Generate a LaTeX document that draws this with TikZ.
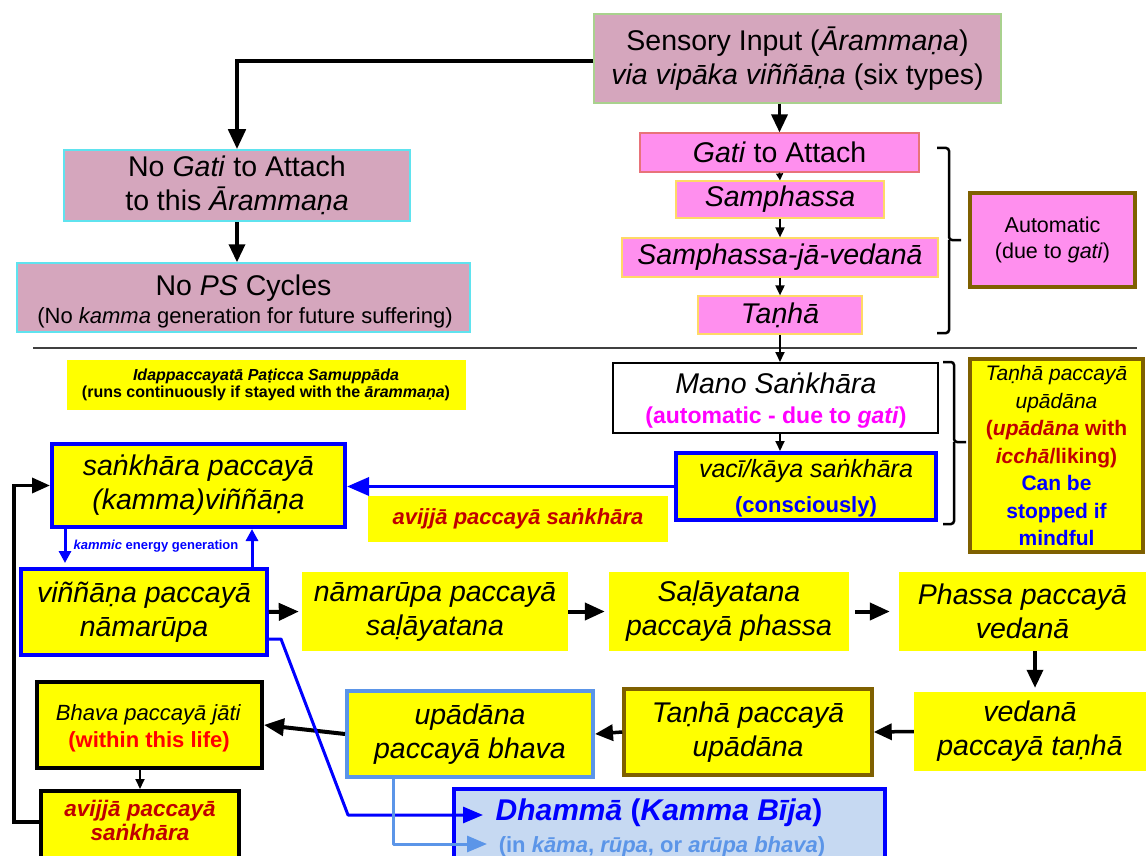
\documentclass[tikz,border=0pt]{standalone}
\usepackage{fontspec}
\setmainfont{Liberation Sans}
\usetikzlibrary{arrows.meta,calc}
\definecolor{mauve}{HTML}{D5A6BD}
\definecolor{pinkbox}{HTML}{FF8FEE}
\definecolor{ylw}{HTML}{FFFF00}
\definecolor{brn}{HTML}{7F6000}
\definecolor{dred}{HTML}{C00000}
\definecolor{lbl}{HTML}{5B95E8}
\definecolor{dhfill}{HTML}{C6D9F2}
\definecolor{mag}{HTML}{FF00FF}
\definecolor{pblue}{HTML}{0000FF}
\definecolor{lgreen}{HTML}{A9D18E}
\definecolor{cyanb}{HTML}{5FE3EF}
\definecolor{salmon}{HTML}{E8737A}
\definecolor{lorange}{HTML}{FFD966}
\definecolor{rulegray}{HTML}{404040}
\definecolor{bred}{HTML}{FF0000}
\newcommand\fsz[2]{\fontsize{#1}{#2}\selectfont}
\begin{document}
\begin{tikzpicture}[x=1pt,y=-1pt,
 box/.style={rectangle, align=center, inner sep=0pt, font=\fsz{28.5}{34}},
 txt/.style={anchor=base, inner sep=0pt},
 harrow/.style={line width=4pt, -{Triangle[length=20pt,width=17pt]}},
 marrow/.style={line width=3.5pt, -{Triangle[length=18pt,width=16pt]}},
 tarrow/.style={line width=1.8pt, -{Triangle[length=10pt,width=9pt]}},
 sarrow/.style={line width=1.4pt, -{Triangle[length=7pt,width=7pt]}},
 barrow/.style={draw=pblue, line width=3.5pt, -{Triangle[length=22pt,width=18pt]}},
 kb/.style={draw=pblue, line width=3pt, -{Triangle[length=12pt,width=12pt]}},
 loopa/.style={line width=3.5pt, -{Triangle[length=18pt,width=15pt]}},
 blroute/.style={draw=pblue, line width=3pt, line join=round, -{Triangle[length=20pt,width=16pt]}},
 lbroute/.style={draw=lbl, line width=3pt, line join=round, -{Triangle[length=20pt,width=16pt]}},
 brk/.style={line width=2.5pt, rounded corners=3pt},
]
\useasboundingbox (0,0) rectangle (1146,856);
\fill[white] (0,0) rectangle (1146,856);

% ---- top part
\node[box, fill=mauve, draw=lgreen, line width=1.5pt, minimum width=407pt, minimum height=89pt] (sens) at (797.5,58.5) {Sensory Input (\textit{Ārammaṇa})\\\textit{via vipāka viññāṇa} (six types)};
\node[box, fill=mauve, draw=cyanb, line width=1.5pt, minimum width=346pt, minimum height=71pt] (nogati) at (237,185.5) {No \textit{Gati} to Attach\\to this \textit{Ārammaṇa}};
\node[box, fill=mauve, draw=cyanb, line width=1.5pt, minimum width=453pt, minimum height=69pt] (nops) at (243.5,297.5) {};
\node[txt, font=\fsz{28.5}{34}] (nops1) at (243.5,295) {No \textit{PS} Cycles};
\node[txt, font=\fsz{22}{26}] (nops2) at (245,323) {(No \textit{kamma} generation for future suffering)};

\node[box, fill=pinkbox, draw=salmon, line width=1.2pt, minimum width=279pt, minimum height=39pt] (gati) at (779.5,152.5) {\textit{Gati} to Attach};
\node[box, fill=pinkbox, draw=lorange, line width=1.2pt, minimum width=208pt, minimum height=37pt] (samph) at (780,199.5) {\textit{Samphassa}};
\node[box, fill=pinkbox, draw=lorange, line width=1.2pt, minimum width=316pt, minimum height=39pt] (sjv) at (780,257.5) {\textit{Samphassa-jā-vedanā}};
\node[box, fill=pinkbox, draw=lorange, line width=1.2pt, minimum width=164pt, minimum height=38pt] (tanha) at (780,315) {\textit{Taṇhā}};
\node[box, fill=pinkbox, draw=brn, line width=4pt, minimum width=165pt, minimum height=94pt, font=\fsz{21.5}{26}] (auto) at (1052.5,240) {Automatic\\(due to \textit{gati})};

\draw[brk] (937,148) -| (949,240) -- (961,240);
\draw[brk] (937,333) -| (949,240);

\draw[line width=1.5pt, rulegray] (33,348) -- (1137,348);

% ---- middle part
\node[box, fill=ylw, minimum width=399pt, minimum height=50pt, font=\fsz{16}{16.5}\bfseries] (ida) at (266,385) {\textit{Idappaccayatā Paṭicca Samuppāda}\\(runs continuously if stayed with the \textit{ārammaṇa})};

\node[box, fill=white, draw=black, line width=2pt, minimum width=325pt, minimum height=70pt] (mano) at (775.5,398) {};
\node[txt, font=\fsz{28.5}{34}] (mano1) at (776,393) {\textit{Mano Saṅkhāra}};
\node[txt, font=\fsz{23}{28}\bfseries, text=mag] (mano2) at (776,423) {(automatic - due to \textit{gati})};

\node[box, fill=ylw, draw=pblue, line width=4pt, minimum width=260pt, minimum height=67pt] (vaci) at (806,486.5) {};
\node[txt, font=\fsz{25}{30}] (vaci1) at (806,477) {\textit{vacī/kāya saṅkhāra}};
\node[txt, font=\fsz{22}{26}\bfseries, text=pblue] (vaci2) at (806,512) {(consciously)};

\draw[brk] (943,362) -| (954,442) -- (966,442);
\draw[brk] (943,524) -| (954,442);

\node[box, fill=ylw, draw=brn, line width=4pt, minimum width=173pt, minimum height=193pt, font=\fsz{21}{27.5}] (upr) at (1056.5,455.5) {\textit{Taṇhā paccayā}\\\textit{upādāna}\\{\color{dred}\bfseries(\textit{upādāna} with}\\{\color{dred}\bfseries\textit{icchā}/liking)}\\{\color{pblue}\bfseries Can be}\\{\color{pblue}\bfseries stopped if}\\{\color{pblue}\bfseries mindful}};

\node[box, fill=ylw, draw=pblue, line width=4pt, minimum width=293pt, minimum height=83pt] (sk) at (198.5,485.5) {\textit{saṅkhāra paccayā}\\\textit{(kamma)viññāṇa}};
\node[box, fill=ylw, minimum width=300pt, minimum height=46pt, font=\fsz{22}{26}\bfseries\itshape, text=dred] (avs) at (518,519) {avijjā paccayā saṅkhāra};
\node[font=\fsz{13}{15}\bfseries, text=pblue, inner sep=0pt] (kl) at (156,546) {\textit{kammic} energy generation};

% ---- lower part
\node[box, fill=ylw, draw=pblue, line width=3.5pt, minimum width=246pt, minimum height=86pt] (vin) at (144,612) {\textit{viññāṇa paccayā}\\\textit{nāmarūpa}};
\node[box, fill=ylw, minimum width=266pt, minimum height=79pt] (nam) at (435,611.5) {\textit{nāmarūpa paccayā}\\\textit{saḷāyatana}};
\node[box, fill=ylw, minimum width=240pt, minimum height=79pt] (sal) at (729,611.5) {\textit{Saḷāyatana}\\\textit{paccayā phassa}};
\node[box, fill=ylw, minimum width=247pt, minimum height=79pt] (pha) at (1022.5,611.5) {\textit{Phassa paccayā}\\\textit{vedanā}};
\node[box, fill=ylw, minimum width=232pt, minimum height=79pt] (ved) at (1030,731.5) {\textit{vedanā}\\\textit{paccayā taṇhā}};
\node[box, fill=ylw, draw=brn, line width=3.5pt, minimum width=248pt, minimum height=86pt] (tpu) at (748,732) {\textit{Taṇhā paccayā}\\\textit{upādāna}};
\node[box, fill=ylw, draw=lbl, line width=4pt, minimum width=246pt, minimum height=86pt] (upb) at (470,734) {\textit{upādāna}\\\textit{paccayā bhava}};
\node[box, fill=ylw, draw=black, line width=4pt, minimum width=225pt, minimum height=86pt] (bha) at (149.5,725) {};
\node[txt, font=\fsz{22}{26}] (bha1) at (148.5,720) {\textit{Bhava paccayā jāti}};
\node[txt, font=\fsz{22}{26}\bfseries, text=bred] (bha2) at (149,747) {(within this life)};
\node[box, fill=ylw, draw=black, line width=4pt, minimum width=198pt, minimum height=80pt] (avb) at (140,831) {};
\node[txt, font=\fsz{22.5}{26}\bfseries\itshape, text=dred] (avb1) at (140,816) {avijjā paccayā};
\node[txt, font=\fsz{22.5}{26}\bfseries\itshape, text=dred] (avb2) at (140,840) {saṅkhāra};
\node[box, fill=dhfill, draw=pblue, line width=4pt, minimum width=431pt, minimum height=82pt] (dh) at (669.5,830) {};
\node[txt, font=\fsz{30}{34}\bfseries, text=pblue] (dh1) at (659,820) {\textit{Dhammā} (\textit{Kamma Bīja})};
\node[txt, font=\fsz{22}{26}\bfseries, text=lbl] (dh2) at (662,852) {(in \textit{kāma}, \textit{rūpa}, or \textit{arūpa bhava})};

% ---- connectors
\draw[harrow, line width=4.5pt] ([yshift=-2.5pt]sens.west) -| (nogati.north);
\draw[marrow] (nogati.south) -- (nogati.south |- nops.north);
\draw[marrow] (gati.north |- sens.south) -- (gati.north);
\draw[sarrow] (gati.south) -- (samph.north);
\draw[tarrow] (samph.south) -- (sjv.north);
\draw[tarrow] (sjv.south) -- (tanha.north);
\draw[tarrow] (tanha.south) -- (tanha.south |- mano.north);
\draw[tarrow] (tanha.south |- mano.south) -- (tanha.south |- vaci.north);
\draw[barrow] (vaci.west) -- (vaci.west -| sk.east);

\coordinate (kd) at (65,563);
\coordinate (ku) at (252,0);
\draw[kb] (sk.south -| kd) -- (kd);
\draw[kb] (vin.north -| ku) -- (sk.south -| ku);

\coordinate (lp) at (14,822);
\draw[loopa] (avb.west |- lp) -- (lp) |- (sk.west);

\draw[harrow, shorten >=3pt] (vin.east) -- (nam.west);
\draw[harrow, shorten >=4pt] (nam.east) -- (sal.west);
\draw[harrow, shorten <=6pt, shorten >=9pt] (sal.east) -- (pha.west);
\coordinate (px) at (1035,0);
\draw[marrow, shorten >=4pt] (pha.south -| px) -- (ved.north -| px);
\draw[marrow] (ved.west) -- (tpu.east);
\draw[marrow] (tpu.west) -- (upb.east);
\draw[harrow] (upb.west) -- (bha.east);
\draw[tarrow] (avb.north |- bha.south) -- (avb.north);

\coordinate (b1) at (281,639);
\coordinate (b2) at (348,815);
\coordinate (bt) at (483,815);
\draw[blroute] (vin.east |- b1) -- (b1) -- (b2) -- (bt);
\coordinate (c1) at (393,844);
\coordinate (ct) at (487,844);
\draw[lbroute] (upb.south -| c1) -- (c1) -- (ct);
\end{tikzpicture}
\end{document}
